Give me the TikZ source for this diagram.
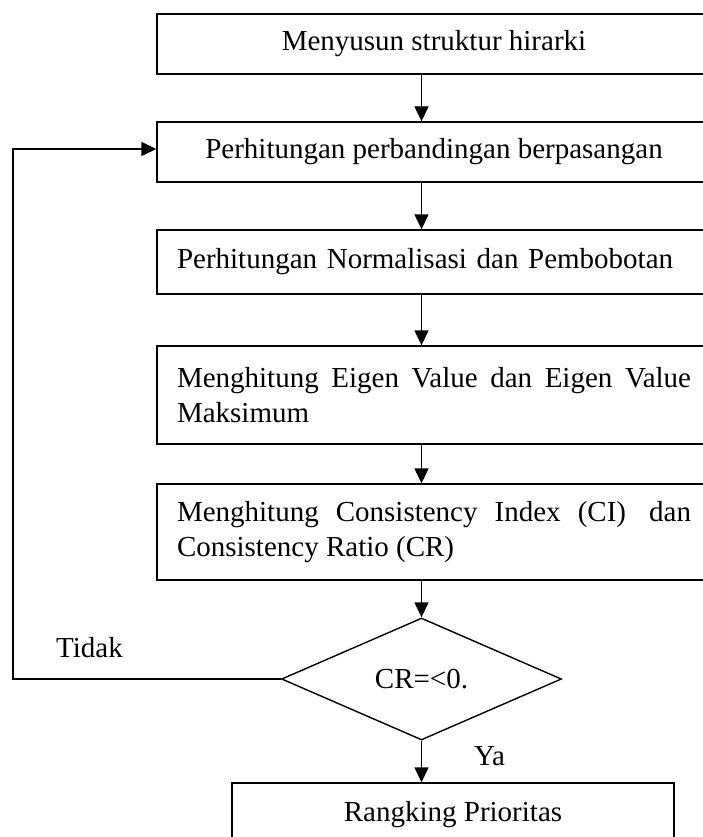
\documentclass[tikz,border=0pt]{standalone}
\usepackage{fontspec}
\setmainfont{Liberation Serif}
\usetikzlibrary{arrows.meta,shapes.geometric}
\tikzset{
  flowbox/.style={draw=black, line width=1.4pt, rectangle, inner sep=0pt,
    minimum width=554pt, font=\fontsize{29pt}{35pt}\selectfont},
  decide/.style={draw=black, line width=1.4pt, diamond, inner sep=0pt,
    minimum width=280pt, minimum height=122pt, font=\fontsize{29pt}{35pt}\selectfont},
  lbl/.style={inner sep=0pt, font=\fontsize{29pt}{35pt}\selectfont},
  arr/.style={line width=1.4pt, -{Triangle[length=15pt,width=14pt]}},
  plain/.style={line width=1.4pt}
}
\begin{document}
\begin{tikzpicture}[x=1pt,y=-1pt]
\useasboundingbox (0,0) rectangle (702,837);
\fill[white] (0,0) rectangle (702,837);
\coordinate (ax) at (421.5,0);
\node[flowbox, minimum height=60pt] (b1) at (434,44) {Menyusun struktur hirarki};
\node[flowbox, minimum height=60pt] (b2) at (434,152) {Perhitungan perbandingan berpasangan};
\node[flowbox, minimum height=64pt, text width=514pt, align=left] (b3) at (434,262) {Perhitungan Normalisasi dan Pembobotan};
\node[flowbox, minimum height=98pt] (b4) at (434,395) {\parbox{514pt}{\fontsize{29pt}{35pt}\selectfont Menghitung Eigen Value dan Eigen Value\linebreak Maksimum}};
\node[flowbox, minimum height=96pt] (b5) at (434,532) {\parbox{514pt}{\fontsize{29pt}{35pt}\selectfont Menghitung Consistency Index (CI)\hspace{6pt} dan\linebreak Consistency Ratio (CR)}};
\node[decide] (d) at (421.5,679) {CR=<0.};
\node[flowbox, minimum width=442pt, minimum height=64pt] (b6) at (453,815) {Rangking Prioritas};
\node[lbl, anchor=base west] (tidak) at (56,657) {Tidak};
\node[lbl, anchor=base west] (ya) at (474,765) {Ya};
\draw[arr] (b1.south -| ax) -- (b2.north -| ax);
\draw[arr] (b2.south -| ax) -- (b3.north -| ax);
\draw[arr] (b3.south -| ax) -- (b4.north -| ax);
\draw[arr] (b4.south -| ax) -- (b5.north -| ax);
\draw[arr] (b5.south -| ax) -- (d.north);
\draw[arr] (d.south) -- (b6.north -| ax);
\coordinate (lt) at (13,149);
\draw[arr] (d.west) -- (d.west -| lt) -- (lt) -- (lt -| b2.west);
\end{tikzpicture}
\end{document}
